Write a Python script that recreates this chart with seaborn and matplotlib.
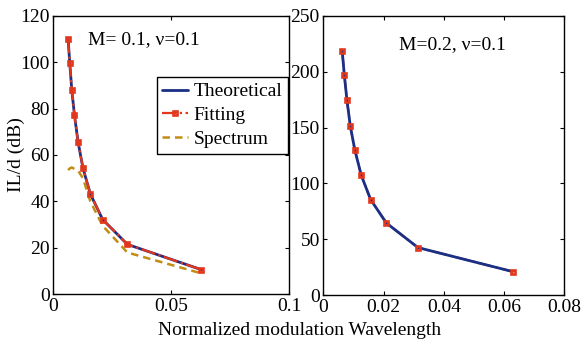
import matplotlib
matplotlib.use("Agg")
import matplotlib.pyplot as plt
import seaborn as sns

# Normalized modulation wavelength (shared by both cases)
wavelength = [0.00628, 0.00698, 0.00785, 0.00898, 0.01047,
              0.01257, 0.01571, 0.02094, 0.03142, 0.06283]

# M = 0.1, nu = 0.1
il_theory_m01 = [110.0, 99.5, 87.8, 77.1, 65.8, 54.4, 43.2, 32.2, 21.5, 10.6]
il_fit_m01 = [110.0, 99.5, 87.8, 77.1, 65.8, 54.4, 43.2, 32.2, 21.5, 10.6]
il_spectrum_m01 = [53.5, 54.2, 54.6, 54.0, 53.3, 50.0, 40.0, 29.5, 18.0, 9.0]

# M = 0.2, nu = 0.1
il_theory_m02 = [218.5, 197.0, 174.5, 151.0, 130.0, 107.5, 85.5, 64.5, 42.5, 21.0]
il_fit_m02 = [218.5, 197.0, 174.5, 151.0, 130.0, 107.5, 85.5, 64.5, 42.5, 21.0]

left_xticks = [0, 0.05, 0.1]
left_yticks = [0, 20, 40, 60, 80, 100, 120]
right_xticks = [0, 0.02, 0.04, 0.06, 0.08]
right_yticks = [0, 50, 100, 150, 200, 250]

BLUE = "#1a2f86"
RED = "#e2371c"
GOLD = "#c38c12"
FS = 14

sns.set_theme(style="ticks")
plt.rcParams.update({
    "font.family": ["Liberation Serif", "DejaVu Serif"],
    "font.size": FS,
    "xtick.direction": "in",
    "ytick.direction": "in",
    "xtick.top": True,
    "ytick.right": True,
    "xtick.major.size": 3,
    "ytick.major.size": 3,
    "xtick.major.width": 0.8,
    "ytick.major.width": 0.8,
    "xtick.major.pad": 3,
    "ytick.major.pad": 2.5,
    "xtick.labelsize": FS,
    "ytick.labelsize": FS,
    "axes.linewidth": 1.0,
    "axes.edgecolor": "black",
    "xtick.color": "black",
    "ytick.color": "black",
    "text.color": "black",
    "axes.labelcolor": "black",
})

fig = plt.figure(figsize=(5.82, 3.44), dpi=100)
ax1 = fig.add_axes([0.0916, 0.1445, 0.405, 0.81])
ax2 = fig.add_axes([0.5555, 0.1424, 0.4141, 0.8111])

marker_kw = dict(marker="s", markersize=3.4, markerfacecolor="none",
                 markeredgecolor=RED, markeredgewidth=1.9)

# Left panel
sns.lineplot(x=wavelength, y=il_theory_m01, ax=ax1, color=BLUE, lw=2.0,
             label="Theoretical", zorder=2)
sns.lineplot(x=wavelength, y=il_fit_m01, ax=ax1, color=RED, lw=1.6,
             linestyle="-.", label="Fitting", zorder=3, **marker_kw)
sns.lineplot(x=wavelength, y=il_spectrum_m01, ax=ax1, color=GOLD, lw=1.8,
             linestyle=(0, (3, 2)), label="Spectrum", zorder=2)
ax1.set_xlim(0, 0.1)
ax1.set_ylim(0, 120)
ax1.set_xticks(left_xticks)
ax1.set_xticklabels(["0", "0.05", "0.1"])
ax1.set_yticks(left_yticks)
ax1.set_ylabel("IL/d (dB)", fontsize=FS, labelpad=-3)
ax1.text(0.0149, 109.5, "M= 0.1, \u03bd=0.1", fontsize=FS, ha="left", va="center")
leg = ax1.legend(loc="upper right", bbox_to_anchor=(0.996, 0.78), borderaxespad=0,
                 fontsize=FS, handlelength=1.3, handletextpad=0.3, borderpad=0.3,
                 labelspacing=0.32, frameon=True, fancybox=False)
leg.get_frame().set_edgecolor("black")
leg.get_frame().set_linewidth(1.0)
leg.get_frame().set_alpha(1)

# Right panel
sns.lineplot(x=wavelength, y=il_fit_m02, ax=ax2, color=RED, lw=1.6,
             linestyle="-.", zorder=2)
sns.lineplot(x=wavelength, y=il_theory_m02, ax=ax2, color=BLUE, lw=2.0, zorder=3)
sns.lineplot(x=wavelength, y=il_fit_m02, ax=ax2, color=RED, linestyle="none",
             zorder=4, **marker_kw)
ax2.set_xlim(0, 0.08)
ax2.set_ylim(0, 250)
ax2.set_xticks(right_xticks)
ax2.set_xticklabels(["0", "0.02", "0.04", "0.06", "0.08"])
ax2.set_yticks(right_yticks)
ax2.text(0.0252, 224, "M=0.2, \u03bd=0.1", fontsize=FS, ha="left", va="center")

for ax in (ax1, ax2):
    for s in ax.spines.values():
        s.set_visible(True)
        s.set_color("black")
    ax.set_xlabel("")

fig.text(0.515, 0.04, "Normalized modulation Wavelength", fontsize=FS,
         ha="center", va="center")

fig.savefig("out.png", dpi=100)
